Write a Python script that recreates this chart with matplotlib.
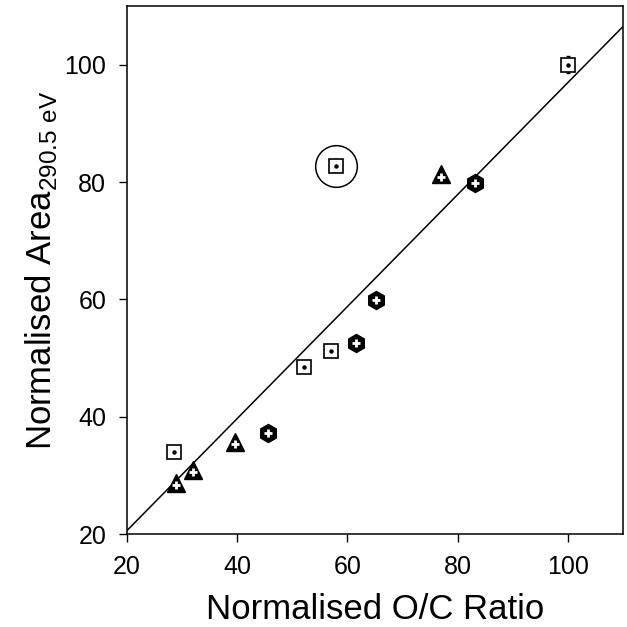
import matplotlib
matplotlib.use("Agg")
from matplotlib import pyplot as plt

plt.rcParams['font.family'] = ['Liberation Sans', 'DejaVu Sans']
plt.rcParams['mathtext.fontset'] = 'custom'
plt.rcParams['mathtext.rm'] = 'Liberation Sans'

# open squares
sq_x = [28.5, 52.2, 57.1, 100.0]
sq_y = [34.0, 48.5, 51.2, 100.0]

# circled outlier square
out_x = [58.0]
out_y = [82.8]

# filled triangles
tri_x = [28.8, 32.0, 39.6, 76.9]
tri_y = [28.7, 30.9, 35.7, 81.3]

# filled hexagons
hex_x = [45.5, 61.6, 65.1, 83.1]
hex_y = [37.2, 52.6, 59.9, 79.9]

# regression line end points
fit_x = [20, 110]
fit_y = [20.6, 106.5]

fig = plt.figure(figsize=(6.27, 6.27), dpi=100)
ax = fig.add_axes([0.2026, 0.1483, 0.791, 0.8421])

ax.plot(fit_x, fit_y, color='black', lw=1.1, zorder=1)

# small error bar on the 100 point
ax.errorbar([100], [100], yerr=[1.4], fmt='none', ecolor='black',
            elinewidth=1, capsize=1.5, zorder=2)

ax.plot(sq_x + out_x, sq_y + out_y, 's', ms=10, mfc='white', mec='black',
        mew=1.2, ls='none', zorder=3)
ax.plot(sq_x + out_x, sq_y + out_y, 'o', ms=2.2, color='black',
        ls='none', zorder=4)
ax.plot(out_x, out_y, 'o', ms=30, mfc='none', mec='black', mew=1.1,
        ls='none', zorder=3)

ax.plot(tri_x, tri_y, '^', ms=13, color='black', ls='none', zorder=3)
ax.plot(tri_x, [y - 0.4 for y in tri_y], '+', ms=6, mew=2, color='white',
        ls='none', zorder=4)

ax.plot(hex_x, hex_y, 'h', ms=13, color='black', ls='none', zorder=3)
ax.plot(hex_x, hex_y, '+', ms=6, mew=2, color='white', ls='none', zorder=4)

ax.set_xlim(20, 110)
ax.set_ylim(20, 110)
ax.set_xticks([20, 40, 60, 80, 100])
ax.set_yticks([20, 40, 60, 80, 100])
ax.tick_params(labelsize=18, direction='out', length=6, width=1, pad=9)
for s in ax.spines.values():
    s.set_linewidth(1.1)

ax.set_xlabel('Normalised O/C Ratio', fontsize=25, labelpad=10)
ax.set_ylabel(r'Normalised Area$_{\mathregular{290.5\ eV}}$', fontsize=25,
              labelpad=4)

fig.savefig('out.png', dpi=100)
